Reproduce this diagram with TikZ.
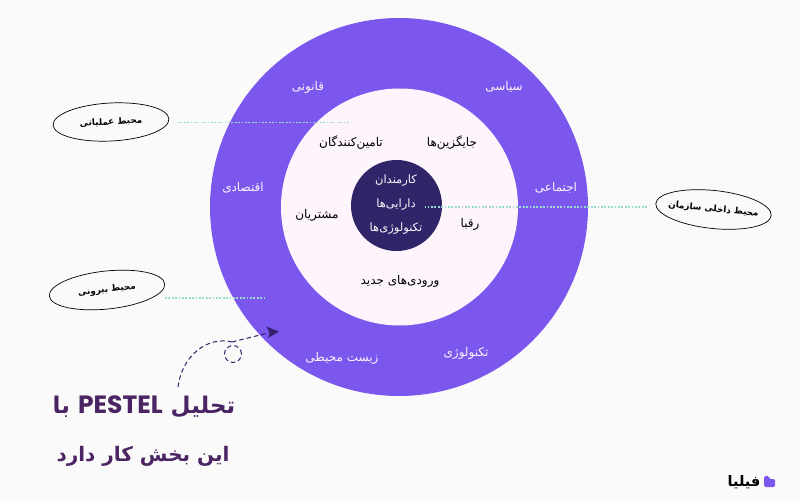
\documentclass[tikz,border=0pt]{standalone}
\usepackage{fontspec}
\usetikzlibrary{shapes.geometric,arrows.meta}
\TeXXeTstate=1
\newfontfamily\fafont[Script=Arabic]{DejaVu Sans}
\newfontfamily\latfont{Poppins}
\newcommand{\fa}[1]{{\fafont\beginR #1\endR}}
\definecolor{pagebg}{HTML}{FAFAFA}
\definecolor{ringc}{HTML}{7B57EE}
\definecolor{midc}{HTML}{FDF4FC}
\definecolor{corec}{HTML}{2F2568}
\definecolor{titlec}{HTML}{4A2463}
\definecolor{dotc}{HTML}{9ADCCB}
\definecolor{arrowc}{HTML}{33216B}
\tikzset{
  x=1pt,y=-1pt,
  disc/.style={circle,inner sep=0pt,minimum size=#1},
  ringlabel/.style={text=midc,font=\fontsize{12}{14}\selectfont,inner sep=1pt},
  midlabel/.style={text=black,font=\fontsize{12}{14}\selectfont,inner sep=1pt},
  corelabel/.style={text=midc,font=\fontsize{11.5}{14}\selectfont,inner sep=1pt},
  tag/.style={draw=black,line width=0.7pt,ellipse,minimum width=116pt,minimum height=38pt,inner xsep=-30pt,inner ysep=0pt,text=black,font=\fontsize{8.8}{11}\selectfont\bfseries},
  dotline/.style={dotc,line width=1.8pt,dash pattern=on 1.8pt off 1.6pt},
  titletext/.style={text=titlec,font=\fontsize{21}{25}\selectfont\bfseries,inner sep=0pt},
  dashcurve/.style={arrowc,line width=1pt,dash pattern=on 4.5pt off 3pt}
}
\begin{document}
\begin{tikzpicture}
\useasboundingbox (0,0) rectangle (800,500);
\fill[pagebg] (0,0) rectangle (800,500);
\node[disc=378pt,fill=ringc] (outer) at (399,207) {};
\node[disc=237pt,fill=midc] (middle) at (399.5,207) {};
\node[disc=91pt,fill=corec] (core) at (396.5,205.5) {};

\node[ringlabel] (l1) at (308,87) {\fa{قانونی}};
\node[ringlabel] (l2) at (504,87) {\fa{سیاسی}};
\node[ringlabel] (l3) at (243,188) {\fa{اقتصادی}};
\node[ringlabel] (l4) at (556,188) {\fa{اجتماعی}};
\node[ringlabel] (l5) at (466,353) {\fa{تکنولوژی}};
\node[ringlabel] (l6) at (342,358) {\fa{زیست محیطی}};

\node[midlabel] (m1) at (351,143) {\fa{تامین‌کنندگان}};
\node[midlabel] (m2) at (452,143) {\fa{جایگزین‌ها}};
\node[midlabel] (m3) at (317,215) {\fa{مشتریان}};
\node[midlabel] (m4) at (470,224) {\fa{رقبا}};
\node[midlabel] (m5) at (400,281) {\fa{ورودی‌های جدید}};

\node[corelabel] (c1) at (396,181) {\fa{کارمندان}};
\node[corelabel] (c2) at (396,205) {\fa{دارایی‌ها}};
\node[corelabel] (c3) at (396,229) {\fa{تکنولوژی‌ها}};

\node[tag,rotate=3] (t1) at (111,122) {\fa{محیط عملیاتی}};
\node[tag,rotate=6] (t2) at (107,290) {\fa{محیط بیرونی}};
\node[tag,rotate=-6] (t3) at (713.5,209.5) {\fa{محیط داخلی سازمان}};

\coordinate (d1a) at (177,122.5); \coordinate (d1b) at (350,122.5);
\coordinate (d2a) at (165,298);   \coordinate (d2b) at (264,298);
\coordinate (d3a) at (647,207);   \coordinate (d3b) at (425,207);
\draw[dotline] (d1a) -- (d1b);
\draw[dotline] (d2a) -- (d2b);
\draw[dotline] (d3a) -- (d3b);

\coordinate (a0) at (178,387);
\coordinate (a1) at (232,342);
\coordinate (a2) at (270,332.5);
\node[circle,draw=arrowc,line width=1pt,dash pattern=on 4.5pt off 3pt,minimum size=17pt,inner sep=0pt] (loop) at (233,354) {};
\draw[dashcurve] (a0) .. controls (182,355) and (208,336) .. (a1);
\draw[dashcurve] (a1) -- (a2);
\fill[arrowc] (279,331.5) -- (266,326.5) -- (270,332.5) -- (268,338) -- cycle;

\node[titletext] (h1) at (144,407) {{\fafont\fontsize{23}{27}\selectfont\beginR تحلیل \beginL{\latfont\fontsize{25}{27}\selectfont\bfseries PESTEL}\endL{} با\endR}};
\node[titletext,font=\fontsize{20}{24}\selectfont\bfseries] (h2) at (143,456) {\fa{این بخش کار دارد}};

\fill[ringc,rounded corners=1.5pt] (764,476) -- (769,476) -- (769,479) -- (775,479) -- (775,487) -- (764,487) -- cycle;
\node[text=black,inner sep=0pt,font=\fontsize{14.5}{16}\selectfont\bfseries] (logo) at (744,482) {\fa{فیلیا}};
\end{tikzpicture}
\end{document}
